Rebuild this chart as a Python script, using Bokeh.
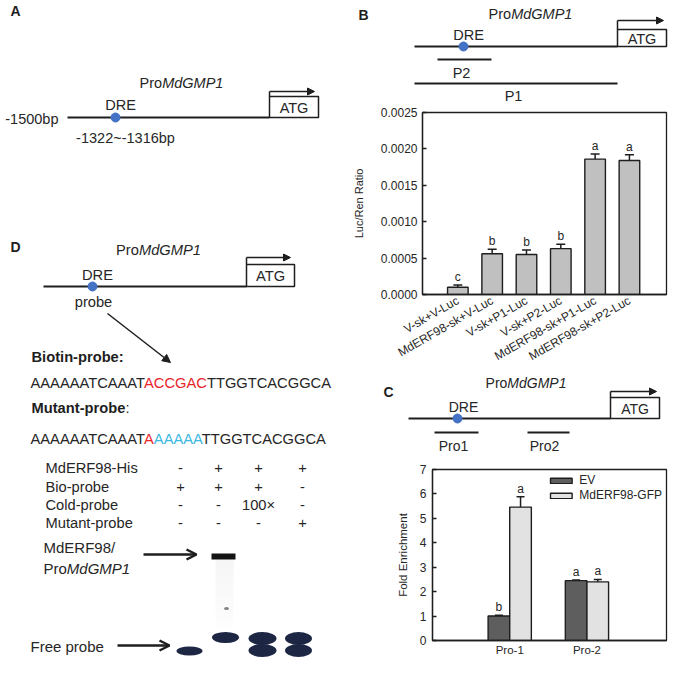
import math
import numpy as np
from bokeh.plotting import figure
from bokeh.models import (Range1d, FixedTicker, PrintfTickFormatter, Whisker, TeeHead,
                          ColumnDataSource, Arrow, NormalHead, OpenHead)
from bokeh.layouts import row, column
from bokeh.core.properties import value
from bokeh.embed import file_html
from bokeh.resources import INLINE

# ------------------------------------------------------------------ data
b_labels = ["V-sk+V-Luc", "MdERF98-sk+V-Luc", "V-sk+P1-Luc", "V-sk+P2-Luc",
            "MdERF98-sk+P1-Luc", "MdERF98-sk+P2-Luc"]
b_values = [0.00010, 0.00056, 0.00055, 0.00063, 0.00186, 0.00184]
b_errors = [0.00003, 0.00006, 0.00006, 0.00006, 0.00007, 0.00008]
b_letters = ["c", "b", "b", "b", "a", "a"]
b_yticks = [0.0, 0.0005, 0.0010, 0.0015, 0.0020, 0.0025]

c_groups = ["Pro-1", "Pro-2"]
c_series = ["EV", "MdERF98-GFP"]
c_ev = [1.00, 2.45]
c_ev_err = [0.03, 0.03]
c_gfp = [5.46, 2.40]
c_gfp_err = [0.42, 0.10]
c_ev_letters = ["b", "a"]
c_gfp_letters = ["a", "a"]
c_yticks = [0, 1, 2, 3, 4, 5, 6, 7]

biotin_segments = ["AAAAAATCAAAT", "ACCGAC", "TTGGTCACGGCA"]
mutant_segments = ["AAAAAATCAAAT", "A", "AAAAA", "TTGGTCACGGCA"]
emsa_rows = ["MdERF98-His", "Bio-probe", "Cold-probe", "Mutant-probe"]
emsa_marks = [["-", "+", "+", "+"],
              ["+", "+", "+", "-"],
              ["-", "-", "100\u00d7", "-"],
              ["-", "-", "-", "+"]]

# ------------------------------------------------------------------ style
FONT = "Liberation Sans"
INK = "#1e1e1e"
TXT = "#262626"
BLUE = "#4472c4"
RED = "#e8242b"
CYAN = "#3bb8e0"
GEL = "#1d2744"

W_REG = {"A": 667, "B": 667, "C": 722, "D": 722, "E": 667, "F": 611, "G": 778, "H": 722,
         "I": 278, "L": 556, "M": 833, "P": 667, "R": 722, "T": 611, "V": 667,
         "a": 556, "b": 556, "c": 500, "d": 556, "e": 556, "i": 222, "k": 500, "l": 222,
         "n": 556, "o": 556, "p": 556, "r": 333, "s": 500, "t": 278, "u": 556,
         "-": 333, ":": 278, " ": 278, "/": 278, "+": 584, "~": 584, ".": 278}
W_BOLD = dict(W_REG)
W_BOLD.update({"B": 722, "o": 611, "t": 333, "n": 611, "p": 611, "r": 389, "b": 611,
               "u": 611, ":": 333, "i": 278})
KERN = {"AT": -74, "TA": -74, "AV": -74, "VA": -74, "AY": -74, "PA": -74}


def tw(s, size, bold=False):
    t = W_BOLD if bold else W_REG
    w = sum(t.get(ch, 556) for ch in s)
    w += sum(KERN.get(s[i:i + 2], 0) for i in range(len(s) - 1))
    return w / 1000.0 * size


def label(p, x, y, s, size, align="left", style="normal", color=TXT, baseline="middle"):
    p.text(x=[x], y=[y], text=[s], text_font=value(FONT), text_font_size=f"{size}px",
           text_align=align, text_baseline=baseline, text_font_style=style, text_color=color)


def runs(p, x, y, parts, size, align="left"):
    total = sum(tw(t, size, "bold" in st) for t, c, st in parts)
    if align == "center":
        x -= total / 2.0
    prev = None
    for t, c, st in parts:
        if prev is not None:
            x += KERN.get(prev[-1] + t[0], 0) / 1000.0 * size
        label(p, x, y, t, size, "left", st, c)
        x += tw(t, size, "bold" in st)
        prev = t


def promo_name(p, x, y, size, align="center"):
    runs(p, x, y, [("Pro", TXT, "normal"), ("MdGMP1", TXT, "italic")], size, align)


def canvas(w, h, x0, y0):
    """Blank drawing area; data units are pixels of the reference picture."""
    p = figure(width=w, height=h, x_range=Range1d(x0, x0 + w), y_range=Range1d(y0 + h, y0),
               output_backend="svg", toolbar_location=None, min_border=0,
               min_border_left=0, min_border_right=0, min_border_top=0, min_border_bottom=0,
               x_axis_type=None, y_axis_type=None, outline_line_color=None)
    p.xgrid.visible = False
    p.ygrid.visible = False
    return p


def promoter(p, x0, x1, y, dot_x, box_w, box_h, stub, arrow_len, size):
    p.line([x0, x1], [y, y], line_color=INK, line_width=2)
    p.quad(left=[x1], right=[x1 + box_w], top=[y - box_h], bottom=[y],
           fill_color="white", line_color=INK, line_width=1.5)
    label(p, x1 + box_w / 2.0, y - box_h / 2.0 + 0.5, "ATG", size, "center")
    ya = y - box_h - stub
    p.line([x1, x1], [y - box_h, ya], line_color=INK, line_width=1.5)
    p.add_layout(Arrow(end=NormalHead(size=7, fill_color=INK, line_color=INK, line_width=1),
                       x_start=x1, y_start=ya, x_end=x1 + arrow_len, y_end=ya,
                       line_color=INK, line_width=1.5))
    p.scatter([dot_x], [y], size=9, fill_color=BLUE, line_color=BLUE)


# ------------------------------------------------------------------ left column (A + D)
pl = canvas(338, 658, 0, 6)
label(pl, 15, 16, "A", 14, "center", "bold", INK)
promo_name(pl, 181, 88, 14.5)
promoter(pl, 67, 269, 123, 115, 49, 21, 5, 45, 14.5)
label(pl, 58, 124, "-1500bp", 14.5, "right")
label(pl, 120, 110, "DRE", 14.5, "center")
label(pl, 125, 143, "-1322~-1316bp", 14.5, "center")

label(pl, 15, 252, "D", 14, "center", "bold", INK)
promo_name(pl, 158, 255, 14.7)
promoter(pl, 43, 246, 292, 92, 48, 22, 7, 44, 14.7)
label(pl, 97, 280, "DRE", 14.7, "center")
label(pl, 93, 307, "probe", 14.7, "center")
pl.add_layout(Arrow(end=NormalHead(size=8, fill_color=INK, line_color=INK, line_width=1),
                    x_start=107, y_start=319, x_end=170, y_end=368,
                    line_color=INK, line_width=1.5))

label(pl, 31, 362, "Biotin-probe:", 14.7, "left", "bold", INK)
bio_colors = [TXT, RED, TXT]
runs(pl, 30, 388, [(s, c, "normal") for s, c in zip(biotin_segments, bio_colors)], 14.7)
runs(pl, 31, 413, [("Mutant-probe", INK, "bold"), (":", INK, "normal")], 14.7)
mut_colors = [TXT, RED, CYAN, TXT]
runs(pl, 30, 444, [(s, c, "normal") for s, c in zip(mutant_segments, mut_colors)], 14.7)

row_y = [473, 492, 510, 528]
col_x = [180, 218, 258, 302]
for ry, name, marks in zip(row_y, emsa_rows, emsa_marks):
    label(pl, 45, ry, name, 14.7, "left")
    for cx, m in zip(col_x, marks):
        label(pl, cx, ry, m, 14.7, "center")

label(pl, 43, 553, "MdERF98/", 15, "left")
promo_name(pl, 43, 574, 15, "left")
pl.add_layout(Arrow(end=OpenHead(size=10, line_color=INK, line_width=2.5),
                    x_start=143, y_start=560, x_end=196, y_end=560,
                    line_color=INK, line_width=2.5))
label(pl, 30, 652, "Free probe", 15, "left")
pl.add_layout(Arrow(end=OpenHead(size=10, line_color=INK, line_width=2.5),
                    x_start=117, y_start=651, x_end=169, y_end=651,
                    line_color=INK, line_width=2.5))

# gel (EMSA image)
smear_y = np.arange(567, 632, 4)
pl.rect(x=[224] * len(smear_y), y=smear_y, width=18, height=4, fill_color="#9a9a9a",
        fill_alpha=np.linspace(0.09, 0.02, len(smear_y)), line_color=None)
pl.ellipse(x=[226], y=[614], width=5, height=3, fill_color="#333333", fill_alpha=0.6,
           line_color=None)
pl.rect(x=[223], y=[562], width=24, height=6, fill_color="#141414", line_color=None)
pl.ellipse(x=[189, 225, 262, 262, 298, 298], y=[656.5, 643, 644, 656, 644, 656],
           width=[26, 27, 28, 28, 27, 27], height=[9, 11, 13, 13, 13, 13],
           fill_color=GEL, line_color=None)

# ------------------------------------------------------------------ panel B schematic
pbs = canvas(330, 103, 347, 0)
label(pbs, 372, 14, "B", 14, "center", "bold", INK)
promo_name(pbs, 539, 13, 14.5)
promoter(pbs, 423, 626, 46, 472, 49, 17, 9, 46, 14.5)
label(pbs, 477, 34, "DRE", 14.5, "center")
pbs.line([446, 500], [59, 59], line_color=INK, line_width=1.8)
label(pbs, 470, 72, "P2", 14.5, "center")
pbs.line([423, 626], [83, 83], line_color=INK, line_width=1.8)
label(pbs, 522, 95, "P1", 14.5, "center")


def style_chart(p):
    p.xgrid.visible = False
    p.ygrid.visible = False
    p.outline_line_color = INK
    p.outline_line_width = 1.3
    for ax in (p.xaxis[0], p.yaxis[0]):
        ax.axis_line_color = INK
        ax.axis_line_width = 1.3
        ax.major_label_text_font = FONT
        ax.major_label_text_font_size = "12px"
        ax.major_label_text_color = TXT
        ax.axis_label_text_font = FONT
        ax.axis_label_text_font_style = "normal"
        ax.axis_label_text_font_size = "11.5px"
        ax.axis_label_text_color = TXT
        ax.minor_tick_line_color = None
        ax.major_tick_line_color = INK
        ax.major_tick_line_width = 1.3
    p.yaxis.major_tick_in = 4
    p.yaxis.major_tick_out = 0
    p.xaxis.major_tick_in = 0
    p.xaxis.major_tick_out = 0


# ------------------------------------------------------------------ panel B chart
xb = np.arange(1, len(b_values) + 1)
pb = figure(width=330, height=269, x_range=Range1d(-0.03, 7.08), y_range=Range1d(0, 0.0025),
            output_backend="svg", toolbar_location=None, min_border_left=84,
            min_border_right=2, min_border_top=9, min_border_bottom=76)
style_chart(pb)
pb.yaxis.ticker = FixedTicker(ticks=b_yticks)
pb.yaxis.formatter = PrintfTickFormatter(format="%.4f")
pb.yaxis.major_label_standoff = 5
pb.yaxis.axis_label = "Luc/Ren Ratio"
pb.yaxis.axis_label_text_font_size = "11px"
pb.yaxis.axis_label_standoff = 13
pb.xaxis.ticker = FixedTicker(ticks=list(xb))
pb.xaxis.major_label_overrides = {int(i): s for i, s in zip(xb, b_labels)}
pb.xaxis.major_label_orientation = math.pi / 6
pb.xaxis.major_label_standoff = 5

pb.vbar(x=xb, top=b_values, width=0.6, fill_color="#c0c0c0", line_color=INK, line_width=1.4)
b_up = np.array(b_values) + np.array(b_errors)
b_lo = np.array(b_values) - np.array(b_errors)
bsrc = ColumnDataSource(dict(x=xb, upper=b_up, lower=b_lo))
pb.add_layout(Whisker(source=bsrc, base="x", upper="upper", lower="lower", line_color=INK,
                      line_width=1.5,
                      upper_head=TeeHead(size=9, line_width=1.5, line_color=INK),
                      lower_head=TeeHead(size=9, line_width=1.5, line_color=INK)))
pb.text(x=xb, y=b_up, text=b_letters, text_align="center", text_baseline="bottom", y_offset=-1,
        text_font=value(FONT), text_font_size="12px", text_color=TXT)

# ------------------------------------------------------------------ panel C schematic
pcs = canvas(330, 90, 347, 378)
label(pcs, 397, 397, "C", 14, "center", "bold", INK)
promo_name(pcs, 534.5, 388, 14)
promoter(pcs, 417, 619, 424, 466, 49, 21, 6, 46, 14)
label(pcs, 472, 412, "DRE", 14, "center")
pcs.line([443, 487], [438, 438], line_color=INK, line_width=1.8)
label(pcs, 462, 451, "Pro1", 14, "center")
pcs.line([536, 578], [438, 438], line_color=INK, line_width=1.8)
label(pcs, 553, 451, "Pro2", 14, "center")

# ------------------------------------------------------------------ panel C chart
xc = np.arange(1, len(c_groups) + 1)
pc = figure(width=330, height=196, x_range=Range1d(0, 3.03), y_range=Range1d(0, 7),
            output_backend="svg", toolbar_location=None, min_border_left=94,
            min_border_right=2, min_border_top=7, min_border_bottom=17)
style_chart(pc)
pc.yaxis.ticker = FixedTicker(ticks=c_yticks)
pc.yaxis.major_label_standoff = 6
pc.yaxis.axis_label = "Fold Enrichment"
pc.yaxis.axis_label_standoff = 8
pc.xaxis.ticker = FixedTicker(ticks=list(xc))
pc.xaxis.major_label_overrides = {int(i): s for i, s in zip(xc, c_groups)}
pc.xaxis.major_label_standoff = 3
pc.xaxis.major_label_text_font_size = "11.5px"

off, bw = 0.14, 0.28
series = [(c_ev, c_ev_err, c_ev_letters, -off, "#5e5e5e", c_series[0]),
          (c_gfp, c_gfp_err, c_gfp_letters, off, "#e2e2e2", c_series[1])]
for vals, errs, lets, dx, col, name in series:
    xs = xc + dx
    pc.vbar(x=xs, top=vals, width=bw, fill_color=col, line_color=INK, line_width=1.4,
            legend_label=name)
    up = np.array(vals) + np.array(errs)
    lo = np.array(vals) - np.array(errs)
    src = ColumnDataSource(dict(x=xs, upper=up, lower=lo))
    pc.add_layout(Whisker(source=src, base="x", upper="upper", lower="lower", line_color=INK,
                          line_width=1.5,
                          upper_head=TeeHead(size=8, line_width=1.5, line_color=INK),
                          lower_head=TeeHead(size=8, line_width=1.5, line_color=INK)))
    pc.text(x=xs, y=up, text=lets, text_align="center", text_baseline="bottom", y_offset=-1,
            text_font=value(FONT), text_font_size="12px", text_color=TXT)

lg = pc.legend[0]
lg.location = "top_right"
lg.border_line_color = None
lg.background_fill_alpha = 0
lg.glyph_width = 27
lg.glyph_height = 7
lg.label_text_font = FONT
lg.label_text_font_size = "12px"
lg.label_text_color = TXT
lg.label_standoff = 5
lg.label_height = 12
lg.spacing = 1
lg.padding = 2
lg.margin = 4

right_col = column(row(pbs), row(pb), row(pcs), row(pc))
layout = row(pl, right_col)
open("out.html", "w").write(file_html(layout, INLINE, title="MdERF98 / ProMdGMP1"))
